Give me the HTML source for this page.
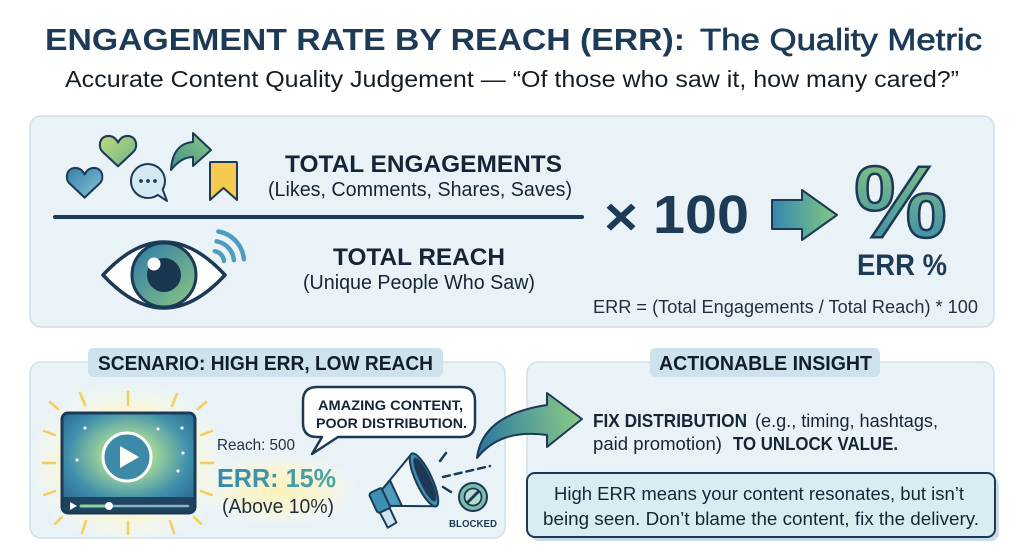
<!DOCTYPE html>
<html>
<head>
<meta charset="utf-8">
<style>
html,body{margin:0;padding:0;background:#ffffff;}
svg{display:block;font-family:"Liberation Sans",Arial,sans-serif;}
</style>
</head>
<body>
<svg width="1024" height="559" viewBox="0 0 1024 559" xmlns="http://www.w3.org/2000/svg">
<defs>
  <linearGradient id="gBG" x1="0" y1="0" x2="1" y2="0">
    <stop offset="0" stop-color="#3587ae"/><stop offset="1" stop-color="#84c783"/>
  </linearGradient>
  <linearGradient id="gPct" x1="0" y1="0" x2="0" y2="1">
    <stop offset="0" stop-color="#8bc97d"/><stop offset="1" stop-color="#3587b0"/>
  </linearGradient>
  <linearGradient id="gHB" x1="0" y1="0" x2="1" y2="1">
    <stop offset="0" stop-color="#2f7fab"/><stop offset="1" stop-color="#8ec4d2"/>
  </linearGradient>
  <linearGradient id="gHG" x1="0" y1="0" x2="1" y2="1">
    <stop offset="0" stop-color="#c2da7a"/><stop offset="1" stop-color="#6ab58c"/>
  </linearGradient>
  <linearGradient id="gShare" x1="0" y1="1" x2="1" y2="0">
    <stop offset="0" stop-color="#3f9088"/><stop offset="1" stop-color="#8ccb86"/>
  </linearGradient>
  <linearGradient id="gIris" x1="0" y1="0" x2="1" y2="1">
    <stop offset="0" stop-color="#2c78a8"/><stop offset="1" stop-color="#8cc784"/>
  </linearGradient>
  <radialGradient id="gPlayer" cx="0.5" cy="0.42" r="0.65">
    <stop offset="0" stop-color="#f1f6b4"/><stop offset="0.3" stop-color="#9fd39a"/>
    <stop offset="0.7" stop-color="#3f8fac"/><stop offset="1" stop-color="#2b6a92"/>
  </radialGradient>
  <radialGradient id="gSun" cx="0.5" cy="0.5" r="0.5">
    <stop offset="0" stop-color="#fff2a8" stop-opacity="1"/>
    <stop offset="0.6" stop-color="#fff6c8" stop-opacity="0.8"/>
    <stop offset="1" stop-color="#fffbe6" stop-opacity="0"/>
  </radialGradient>
  <linearGradient id="gErr" x1="0" y1="0" x2="1" y2="0">
    <stop offset="0" stop-color="#3788ac"/><stop offset="1" stop-color="#4fa6a5"/>
  </linearGradient>
  <linearGradient id="gCurve" gradientUnits="userSpaceOnUse" x1="477" y1="440" x2="582" y2="420">
    <stop offset="0" stop-color="#2a76a2"/><stop offset="1" stop-color="#8bcb86"/>
  </linearGradient>
</defs>

<!-- Title -->
<text x="45" y="50" font-size="31" font-weight="bold" fill="#1d3a56" textLength="640" lengthAdjust="spacingAndGlyphs">ENGAGEMENT RATE BY REACH (ERR):</text>
<text x="700" y="50" font-size="31" fill="#1d3a56" stroke="#1d3a56" stroke-width="0.7" textLength="282" lengthAdjust="spacingAndGlyphs">The Quality Metric</text>
<text x="65" y="87" font-size="23" fill="#141c24" textLength="894" lengthAdjust="spacingAndGlyphs">Accurate Content Quality Judgement — “Of those who saw it, how many cared?”</text>

<!-- Panels -->
<rect x="30" y="116" width="964" height="211" rx="11" fill="#e9f3f7" stroke="#d0e0e8" stroke-width="1.5"/>
<rect x="30" y="362" width="475" height="176" rx="11" fill="#e9f3f7" stroke="#d0e0e8" stroke-width="1.5"/>
<rect x="527" y="362" width="467" height="176" rx="11" fill="#e9f3f7" stroke="#d0e0e8" stroke-width="1.5"/>

<!-- Top panel icons -->
<path d="M20,34 L4,19 C-2,13 1,2 10,2 C15,2 18,5 20,9 C22,5 25,2 30,2 C39,2 42,13 36,19 Z" transform="translate(66,166) scale(0.93)" fill="url(#gHB)" stroke="#1c3a56" stroke-width="2.2" stroke-linejoin="round"/>
<path d="M20,34 L4,19 C-2,13 1,2 10,2 C15,2 18,5 20,9 C22,5 25,2 30,2 C39,2 42,13 36,19 Z" transform="translate(99,134) scale(0.95)" fill="url(#gHG)" stroke="#1c3a56" stroke-width="2.2" stroke-linejoin="round"/>
<path d="M157.8,194.9 A17,17 0 1 1 162.7,189.5 L167,201 Z" fill="#d4e9f1" stroke="#1c3a56" stroke-width="2" stroke-linejoin="round"/>
<circle cx="141" cy="181" r="1.9" fill="#1c3a56"/><circle cx="148" cy="181" r="1.9" fill="#1c3a56"/><circle cx="155" cy="181" r="1.9" fill="#1c3a56"/>
<path d="M171,170 C172,152 180,143 193,142 L193,133 L211,150 L193,166 L193,157 C185,157 178,161 171,170 Z" fill="url(#gShare)" stroke="#1c3a56" stroke-width="2" stroke-linejoin="round"/>
<path d="M210,163 Q210,162 211,162 H236 Q237,162 237,163 V200 L223.5,188 L210,200 Z" fill="#f6c94f" stroke="#1c3a56" stroke-width="2" stroke-linejoin="round"/>

<text x="285" y="172" font-size="24" font-weight="bold" fill="#152535" textLength="277" lengthAdjust="spacingAndGlyphs">TOTAL ENGAGEMENTS</text>
<text x="268" y="196" font-size="20" fill="#152535" textLength="304" lengthAdjust="spacingAndGlyphs">(Likes, Comments, Shares, Saves)</text>
<line x1="55" y1="217" x2="582" y2="217" stroke="#1c3a56" stroke-width="4" stroke-linecap="round"/>

<!-- Eye -->
<path d="M103,275 Q164,209 225,275 Q164,341 103,275 Z" fill="#ffffff" stroke="#1c3a56" stroke-width="3.5" stroke-linejoin="round"/>
<circle cx="164" cy="275" r="32" fill="url(#gIris)" stroke="#1c3a56" stroke-width="3"/>
<circle cx="164" cy="275" r="17" fill="#1a3550"/>
<circle cx="154" cy="264" r="6.5" fill="#ffffff"/>
<g fill="none" stroke="#4e9dc0" stroke-width="4.5" stroke-linecap="round">
  <path d="M218.4,231.5 A31,31 0 0 1 243.9,259.3"/>
  <path d="M216.6,241.3 A21,21 0 0 1 233.9,260.2"/>
  <path d="M214.9,251.2 A11,11 0 0 1 224,261"/>
</g>

<text x="333" y="265" font-size="24" font-weight="bold" fill="#152535" textLength="172" lengthAdjust="spacingAndGlyphs">TOTAL REACH</text>
<text x="303" y="289" font-size="20" fill="#152535" textLength="232" lengthAdjust="spacingAndGlyphs">(Unique People Who Saw)</text>

<!-- x 100 -->
<text x="604" y="235" font-size="54" font-weight="bold" fill="#1d3a56" textLength="34" lengthAdjust="spacingAndGlyphs">×</text>
<text x="653" y="233" font-size="54" font-weight="bold" fill="#1d3a56" textLength="96" lengthAdjust="spacingAndGlyphs">100</text>
<path d="M772,200 L802,200 L802,190 L837,215 L802,240 L802,229 L772,229 Z" fill="url(#gBG)" stroke="#1c3a56" stroke-width="2" stroke-linejoin="round"/>

<text x="854" y="237" font-size="102" font-weight="bold" fill="url(#gPct)" stroke="#1c3a56" stroke-width="2.5" textLength="93" lengthAdjust="spacingAndGlyphs">%</text>
<text x="857" y="275" font-size="30" font-weight="bold" fill="#1d3a56" textLength="90" lengthAdjust="spacingAndGlyphs">ERR %</text>
<text x="593" y="313" font-size="18" fill="#1f2f3d" textLength="385" lengthAdjust="spacingAndGlyphs">ERR = (Total Engagements / Total Reach) * 100</text>

<!-- Tabs -->
<rect x="88" y="348" width="355" height="29" rx="5" fill="#cde2ec"/>
<text x="98" y="370" font-size="20" font-weight="bold" fill="#121d28" textLength="335" lengthAdjust="spacingAndGlyphs">SCENARIO: HIGH ERR, LOW REACH</text>
<rect x="650" y="348" width="230" height="29" rx="5" fill="#cde2ec"/>
<text x="659" y="370" font-size="20" font-weight="bold" fill="#121d28" textLength="213" lengthAdjust="spacingAndGlyphs">ACTIONABLE INSIGHT</text>

<!-- Sun glow -->
<ellipse cx="128" cy="463" rx="100" ry="82" fill="url(#gSun)"/>
<ellipse cx="278" cy="490" rx="80" ry="36" fill="url(#gSun)" opacity="0.8"/>
<g stroke="#f4cd5a" stroke-width="2.5" stroke-linecap="round">
  <line x1="80" y1="393" x2="85" y2="405"/><line x1="128" y1="392" x2="128" y2="405"/><line x1="177" y1="394" x2="172" y2="406"/>
  <line x1="50" y1="402" x2="58" y2="409"/><line x1="206" y1="402" x2="198" y2="409"/>
  <line x1="44" y1="431" x2="55" y2="435"/><line x1="43" y1="463" x2="55" y2="463"/><line x1="44" y1="495" x2="55" y2="491"/>
  <line x1="212" y1="431" x2="201" y2="435"/><line x1="213" y1="463" x2="201" y2="463"/><line x1="212" y1="495" x2="201" y2="491"/>
  <line x1="55" y1="524" x2="62" y2="517"/><line x1="201" y1="524" x2="194" y2="517"/>
  <line x1="82" y1="533" x2="86" y2="521"/><line x1="128" y1="534" x2="128" y2="522"/><line x1="174" y1="533" x2="170" y2="521"/>
</g>

<!-- Video player -->
<rect x="62" y="413" width="133" height="100" rx="6" fill="url(#gPlayer)"/>
<path d="M62,497 H195 V507 Q195,513 189,513 H68 Q62,513 62,507 Z" fill="#1d4460"/>
<rect x="62" y="413" width="133" height="100" rx="6" fill="none" stroke="#1c3a56" stroke-width="3"/>
<g fill="#ffffff" opacity="0.9">
  <circle cx="85" cy="428" r="1.6"/><circle cx="158" cy="429" r="1.6"/><circle cx="182" cy="428" r="1.6"/>
  <circle cx="77" cy="460" r="1.6"/><circle cx="183" cy="453" r="1.6"/><circle cx="178" cy="471" r="1.6"/>
</g>
<circle cx="127" cy="457" r="24" fill="#3d8aa8" stroke="#ffffff" stroke-width="3"/>
<path d="M120,446 L120,468 L139,457 Z" fill="#ffffff"/>
<path d="M70,502 L70,510 L77,506 Z" fill="#ffffff"/>
<line x1="81" y1="506" x2="188" y2="506" stroke="#8fb3c4" stroke-width="2.5" stroke-linecap="round"/>
<line x1="81" y1="506" x2="109" y2="506" stroke="#8fd19a" stroke-width="3" stroke-linecap="round"/>
<circle cx="109" cy="506" r="4" fill="#ffffff"/>

<text x="217" y="450" font-size="16" fill="#1f2f3d" textLength="78" lengthAdjust="spacingAndGlyphs">Reach: 500</text>
<text x="217" y="487" font-size="26" font-weight="bold" fill="url(#gErr)" textLength="119" lengthAdjust="spacingAndGlyphs">ERR: 15%</text>
<text x="222" y="513" font-size="20" fill="#1f2f3d" textLength="112" lengthAdjust="spacingAndGlyphs">(Above 10%)</text>

<!-- Speech bubble -->
<path d="M317,387 H461 Q475,387 475,401 V423 Q475,437 461,437 H338 L312,454 L322,437 H317 Q303,437 303,423 V401 Q303,387 317,387 Z" fill="#ffffff" stroke="#1c3a56" stroke-width="2.5" stroke-linejoin="round"/>
<text x="318" y="410" font-size="14" font-weight="bold" fill="#152535" textLength="145" lengthAdjust="spacingAndGlyphs">AMAZING CONTENT,</text>
<text x="316" y="428" font-size="14" font-weight="bold" fill="#152535" textLength="151" lengthAdjust="spacingAndGlyphs">POOR DISTRIBUTION.</text>

<!-- Megaphone -->
<g transform="rotate(-25 400 490)" stroke="#1c3a56" stroke-width="2" stroke-linejoin="round">
  <path d="M372,498 L383,498 L383,518 L373,519 Z" fill="#cfe3ec"/>
  <rect x="370" y="480" width="15" height="22" rx="3" fill="#3f8fb0"/>
  <path d="M384,482 L426,462 L426,520 L384,500 Z" fill="#eef5f9"/>
  <path d="M384,482 L395,477 L395,505 L384,500 Z" fill="#4f9cbc"/>
  <ellipse cx="426" cy="491" rx="8" ry="29" fill="#3f8fb0"/>
  <ellipse cx="427" cy="491" rx="4.5" ry="23" fill="#1c3a56"/>
</g>
<g stroke="#1c3a56" stroke-width="2.5" stroke-linecap="round">
  <line x1="443" y1="477" x2="490" y2="466" stroke-dasharray="7 5"/>
  <line x1="440" y1="461" x2="446" y2="453"/>
  <line x1="443" y1="487" x2="451" y2="492"/>
</g>
<circle cx="473" cy="497" r="14" fill="#7dbba8" stroke="#1c3a56" stroke-width="2"/>
<circle cx="473" cy="497" r="8.5" fill="#b7ddcf" stroke="#1c3a56" stroke-width="1.8"/>
<line x1="467" y1="503" x2="479" y2="491" stroke="#1c3a56" stroke-width="3"/>
<text x="449" y="527" font-size="10" font-weight="bold" fill="#1c3a56" textLength="48" lengthAdjust="spacingAndGlyphs">BLOCKED</text>

<!-- Curved arrow -->
<path d="M477,458 C480,432 500,412 547,405 L547,393 L582,419 L547,447 L547,435 C515,431 493,438 477,458 Z" fill="url(#gCurve)" stroke="#1c3a56" stroke-width="2" stroke-linejoin="round"/>

<!-- Right panel text -->
<text x="593" y="427" font-size="18" font-weight="bold" fill="#152535" textLength="154" lengthAdjust="spacingAndGlyphs">FIX DISTRIBUTION</text>
<text x="755" y="427" font-size="18" fill="#152535" textLength="183" lengthAdjust="spacingAndGlyphs">(e.g., timing, hashtags,</text>
<text x="593" y="450" font-size="18" fill="#152535" textLength="129" lengthAdjust="spacingAndGlyphs">paid promotion)</text>
<text x="733" y="450" font-size="18" font-weight="bold" fill="#152535" textLength="165" lengthAdjust="spacingAndGlyphs">TO UNLOCK VALUE.</text>

<rect x="531" y="477" width="468" height="64" rx="8" fill="#c9dce5"/>
<rect x="527" y="473" width="468" height="64" rx="8" fill="#dbebf2" stroke="#1c3a56" stroke-width="2"/>
<text x="554" y="500" font-size="18" fill="#152535" textLength="410" lengthAdjust="spacingAndGlyphs">High ERR means your content resonates, but isn’t</text>
<text x="543" y="525" font-size="18" fill="#152535" textLength="436" lengthAdjust="spacingAndGlyphs">being seen. Don’t blame the content, fix the delivery.</text>
</svg>
</body>
</html>
